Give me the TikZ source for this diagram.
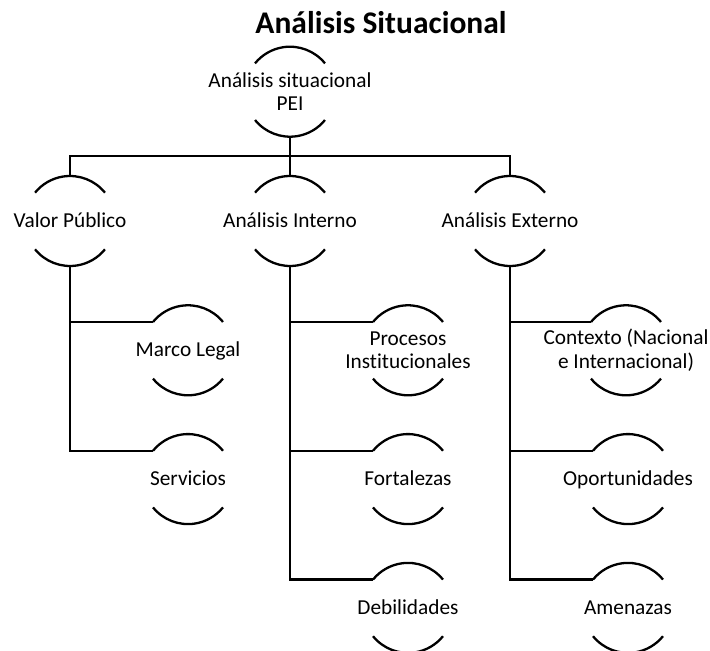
\documentclass[tikz,border=0pt]{standalone}
\usepackage{fontspec}
\setmainfont{Carlito}[Ligatures=NoCommon]
\begin{document}
\begin{tikzpicture}[x=1pt,y=1pt,
  lbl/.style={inner sep=0pt, align=center, font=\fontsize{21.3}{23.5}\selectfont},
  one/.style={lbl, text height=15pt, text depth=2pt},
  conn/.style={line width=2.3pt, line join=miter},
  arcline/.style={line width=2.3pt},
  ttl/.style={inner sep=0pt, anchor=base, font=\fontsize{31.5}{36}\bfseries}]
\useasboundingbox (0,0) rectangle (710,651);
\node[ttl] (title) at (381,617) {Análisis Situacional};
% nodes
\node[lbl] (root) at (290,559.3) {Análisis situacional\\PEI};
\node[one] (vp) at (70,430) {Valor Público};
\node[one] (ai) at (290,430) {Análisis Interno};
\node[one] (ae) at (510,430) {Análisis Externo};
\node[one] (ml) at (188,300.7) {Marco Legal};
\node[one] (sv) at (188,171.9) {Servicios};
\node[lbl] (pi) at (408,300.7) {Procesos\\Institucionales};
\node[one] (fo) at (408,171.9) {Fortalezas};
\node[one] (de) at (408,43.1) {Debilidades};
\node[lbl] (ct) at (626,300.7) {Contexto (Nacional\\e Internacional)};
\node[one] (op) at (628,171.9) {Oportunidades};
\node[one] (am) at (628,43.1) {Amenazas};
% arcs
\foreach \n in {root,vp,ai,ae,ml,sv,pi,fo,de,ct,op,am}{
  \draw[arcline] ([shift={(39:45pt)}]\n.center) arc[start angle=39,end angle=141,radius=45pt];
  \draw[arcline] ([shift={(219:45pt)}]\n.center) arc[start angle=219,end angle=321,radius=45pt];
}
% connectors
\coordinate (bus) at (290,495);
\draw[conn] ([yshift=-45pt]root.center) -- (bus);
\draw[conn] ([yshift=45pt]vp.center) |- (bus);
\draw[conn] ([yshift=45pt]ae.center) |- (bus);
\draw[conn] ([yshift=45pt]ai.center) -- (bus);
\foreach \p/\c in {vp/ml,vp/sv,ai/pi,ai/fo,ai/de,ae/ct,ae/op,ae/am}{
  \draw[conn] ([yshift=-45pt]\p.center) |- ([shift={(141:45pt)}]\c.center);
}
\end{tikzpicture}
\end{document}
